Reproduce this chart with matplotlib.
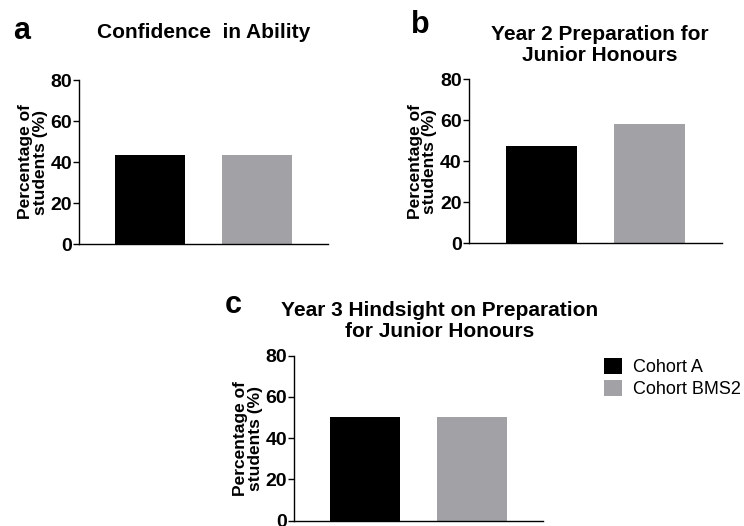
import matplotlib
matplotlib.use("Agg")
import matplotlib.pyplot as plt
from matplotlib.patches import Patch

cohorts = ["Cohort A", "Cohort BMS2"]
colors = ["#000000", "#a2a1a6"]
titles = ["Confidence  in Ability",
          "Year 2 Preparation for\nJunior Honours",
          "Year 3 Hindsight on Preparation\nfor Junior Honours"]
letters = ["a", "b", "c"]
conf_ability = [43.3, 43.3]
year2_prep = [47.3, 58.0]
year3_hindsight = [50.5, 50.5]
yticks = [0, 20, 40, 60, 80]

tick_font = {"family": ["Liberation Sans Narrow", "Liberation Sans"], "weight": "bold", "size": 14}

fig = plt.figure(figsize=(7.44, 5.26), dpi=100)

axes_pos = [
    [0.1062, 0.5361, 0.3347, 0.3118],
    [0.6300, 0.5374, 0.3405, 0.3124],
    [0.3952, 0.0101, 0.3347, 0.3137],
]
title_xy = [(0.274, 0.939), (0.806, 0.914), (0.591, 0.390)]
letter_xy = [(0.018, 0.926), (0.552, 0.937), (0.302, 0.405)]
datasets = [conf_ability, year2_prep, year3_hindsight]

for pos, vals, title, letter, txy, lxy in zip(axes_pos, datasets, titles, letters, title_xy, letter_xy):
    ax = fig.add_axes(pos)
    ax.bar([0, 1], vals, width=0.66, color=colors, edgecolor="none")
    ax.set_xlim(-0.67, 1.67)
    ax.set_ylim(0, 80)
    ax.set_yticks(yticks)
    ax.set_yticklabels([str(t) for t in yticks], fontdict=tick_font)
    ax.set_xticks([])
    ax.spines["top"].set_visible(False)
    ax.spines["right"].set_visible(False)
    ax.spines["left"].set_linewidth(1.0)
    ax.spines["bottom"].set_linewidth(1.0)
    ax.tick_params(axis="y", length=4, width=1.0, pad=1)
    ax.set_ylabel("Percentage of\nstudents (%)", fontsize=12.5, fontweight="bold",
                  family="Liberation Sans", linespacing=0.95, labelpad=2)
    fig.text(txy[0], txy[1], title, ha="center", va="center", fontsize=15,
             fontweight="bold", family="Liberation Sans", linespacing=1.15)
    fig.text(lxy[0], lxy[1], letter, ha="left", va="baseline", fontsize=22,
             fontweight="bold", family="Liberation Sans")

handles = [Patch(facecolor=c, edgecolor="none") for c in colors]
fig.legend(handles, cohorts, loc="upper left", bbox_to_anchor=(0.802, 0.333),
           frameon=False, handlelength=1.0, handleheight=1.0,
           handletextpad=0.6, labelspacing=0.2, borderaxespad=0,
           prop={"family": "Liberation Sans", "size": 13})

fig.savefig("out.png", dpi=100)
